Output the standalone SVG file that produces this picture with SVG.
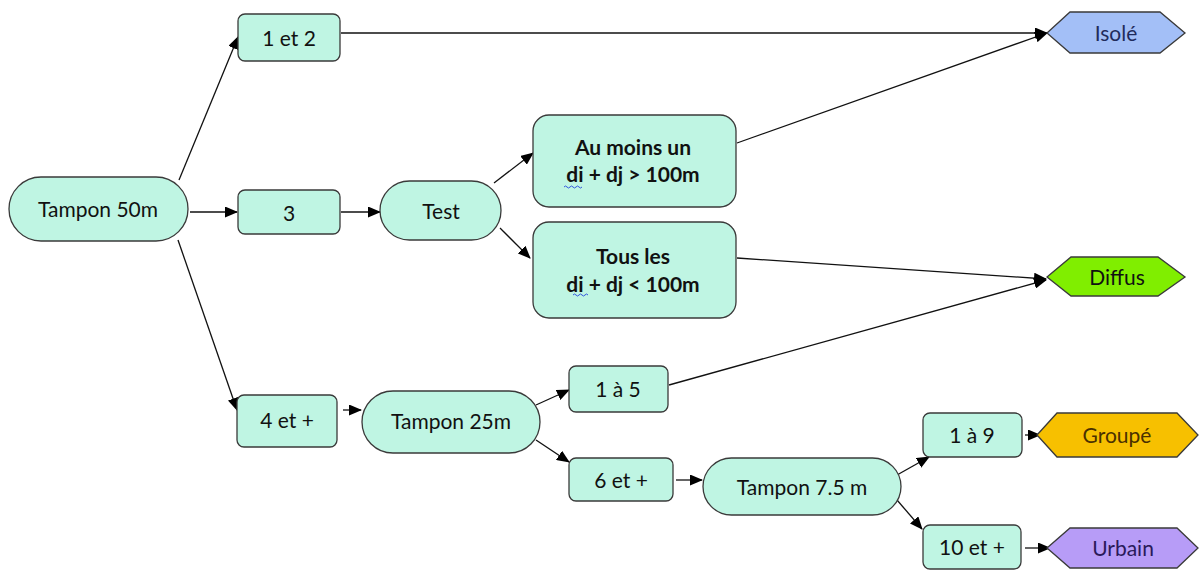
<svg xmlns="http://www.w3.org/2000/svg" width="1201" height="570" viewBox="0 0 1201 570">
<style>
.n{fill:#bff5e3;stroke:#3a3a3a;stroke-width:1.3}
.t{font-family:Lato,"Liberation Sans",sans-serif;font-size:21px;fill:#111;text-anchor:middle;dominant-baseline:central}
.b{font-weight:bold}
.c line{stroke:#111;stroke-width:1.3;marker-end:url(#ah)}
.sq{fill:none;stroke:#3355dd;stroke-width:1}
</style>
<defs>
<marker id="ah" viewBox="0 0 13 11" refX="12" refY="5.5" markerWidth="13" markerHeight="11" markerUnits="userSpaceOnUse" orient="auto">
<path d="M0,0 L13,5.5 L0,11 Z" fill="#000"/>
</marker>
</defs>
<rect width="1201" height="570" fill="#fff"/>
<g class="c" id="connectors">
<line x1="179" y1="180" x2="238" y2="37"/>
<line x1="190" y1="212" x2="237" y2="212"/>
<line x1="178" y1="240" x2="237" y2="410"/>
<line x1="341" y1="212" x2="380" y2="212"/>
<line x1="494" y1="183" x2="533" y2="153"/>
<line x1="500" y1="228" x2="530" y2="258"/>
<line x1="341" y1="33" x2="1047" y2="33"/>
<line x1="737" y1="143" x2="1047" y2="33"/>
<line x1="737" y1="258" x2="1046" y2="279"/>
<line x1="669" y1="385" x2="1046" y2="280"/>
<line x1="343" y1="410" x2="361" y2="410"/>
<line x1="536" y1="405" x2="569" y2="390"/>
<line x1="536" y1="440" x2="569" y2="462"/>
<line x1="676" y1="480" x2="702" y2="480"/>
<line x1="897" y1="475" x2="929" y2="457"/>
<line x1="897" y1="500" x2="922" y2="529"/>
<line x1="1025" y1="435" x2="1040" y2="435"/>
<line x1="1025" y1="548" x2="1050" y2="548"/>
</g>
<g id="tampon50"><rect class="n" x="9" y="177" width="179" height="64" rx="32"/><text class="t" x="98" y="208">Tampon 50m</text></g>
<g id="n12"><rect class="n" x="238" y="14" width="102" height="47" rx="7"/><text class="t" x="289" y="37">1 et 2</text></g>
<g id="n3"><rect class="n" x="238" y="190" width="102" height="44" rx="7"/><text class="t" x="289" y="212">3</text></g>
<g id="test"><rect class="n" x="380" y="181" width="121" height="59" rx="29.5"/><text class="t" x="441" y="210">Test</text></g>
<g id="aumoins"><rect class="n" x="533" y="115" width="203" height="92" rx="16"/><text class="t b" x="633" y="146" font-size="16.5">Au moins un</text><text class="t b" x="633" y="173" font-size="22">di + dj &gt; 100m</text><path class="sq" d="M564,187 q1.5,-2 3,0 t3,0 t3,0 t3,0 t3,0 t3,0"/></g>
<g id="tousles"><rect class="n" x="533" y="222" width="203" height="96" rx="16"/><text class="t b" x="633" y="255" font-size="16.5">Tous les</text><text class="t b" x="633" y="283" font-size="19">di + dj &lt; 100m</text><path class="sq" d="M573,295 q1.5,-2 3,0 t3,0 t3,0 t3,0 t3,0"/></g>
<g id="isole"><polygon points="1047,33 1070,12 1160,12 1185,33 1160,53 1070,53" fill="#a3bff7" stroke="#3a3a3a" stroke-width="1.3"/><text class="t" x="1116" y="32" style="fill:#1f2b5c">Isolé</text></g>
<g id="diffus"><polygon points="1047,277 1071,257 1158,257 1185,277 1158,296 1071,296" fill="#80ee00" stroke="#3a3a3a" stroke-width="1.3"/><text class="t" x="1117" y="276">Diffus</text></g>
<g id="n4"><rect class="n" x="237" y="395" width="100" height="52" rx="7"/><text class="t" x="287" y="419">4 et +</text></g>
<g id="tampon25"><rect class="n" x="362" y="391" width="178" height="62" rx="31"/><text class="t" x="451" y="420">Tampon 25m</text></g>
<g id="n15"><rect class="n" x="569" y="366" width="99" height="46" rx="7"/><text class="t" x="618" y="388">1 à 5</text></g>
<g id="n6"><rect class="n" x="569" y="458" width="104" height="43" rx="7"/><text class="t" x="621" y="479">6 et +</text></g>
<g id="tampon75"><rect class="n" x="703" y="458" width="198" height="57" rx="28.5"/><text class="t" x="802" y="486">Tampon 7.5 m</text></g>
<g id="n19"><rect class="n" x="923" y="413" width="99" height="44" rx="7"/><text class="t" x="972" y="434">1 à 9</text></g>
<g id="n10"><rect class="n" x="923" y="525" width="98" height="44" rx="7"/><text class="t" x="972" y="546">10 et +</text></g>
<g id="groupe"><polygon points="1037,435 1057,413 1177,413 1198,435 1177,457 1057,457" fill="#f7c000" stroke="#3a3a3a" stroke-width="1.3"/><text class="t" x="1117" y="434" style="fill:#4a3000">Groupé</text></g>
<g id="urbain"><polygon points="1047,548 1070,528 1177,528 1198,548 1177,568 1070,568" fill="#b79cf7" stroke="#3a3a3a" stroke-width="1.3"/><text class="t" x="1123" y="547" style="fill:#2a1a5a">Urbain</text></g>
</svg>
